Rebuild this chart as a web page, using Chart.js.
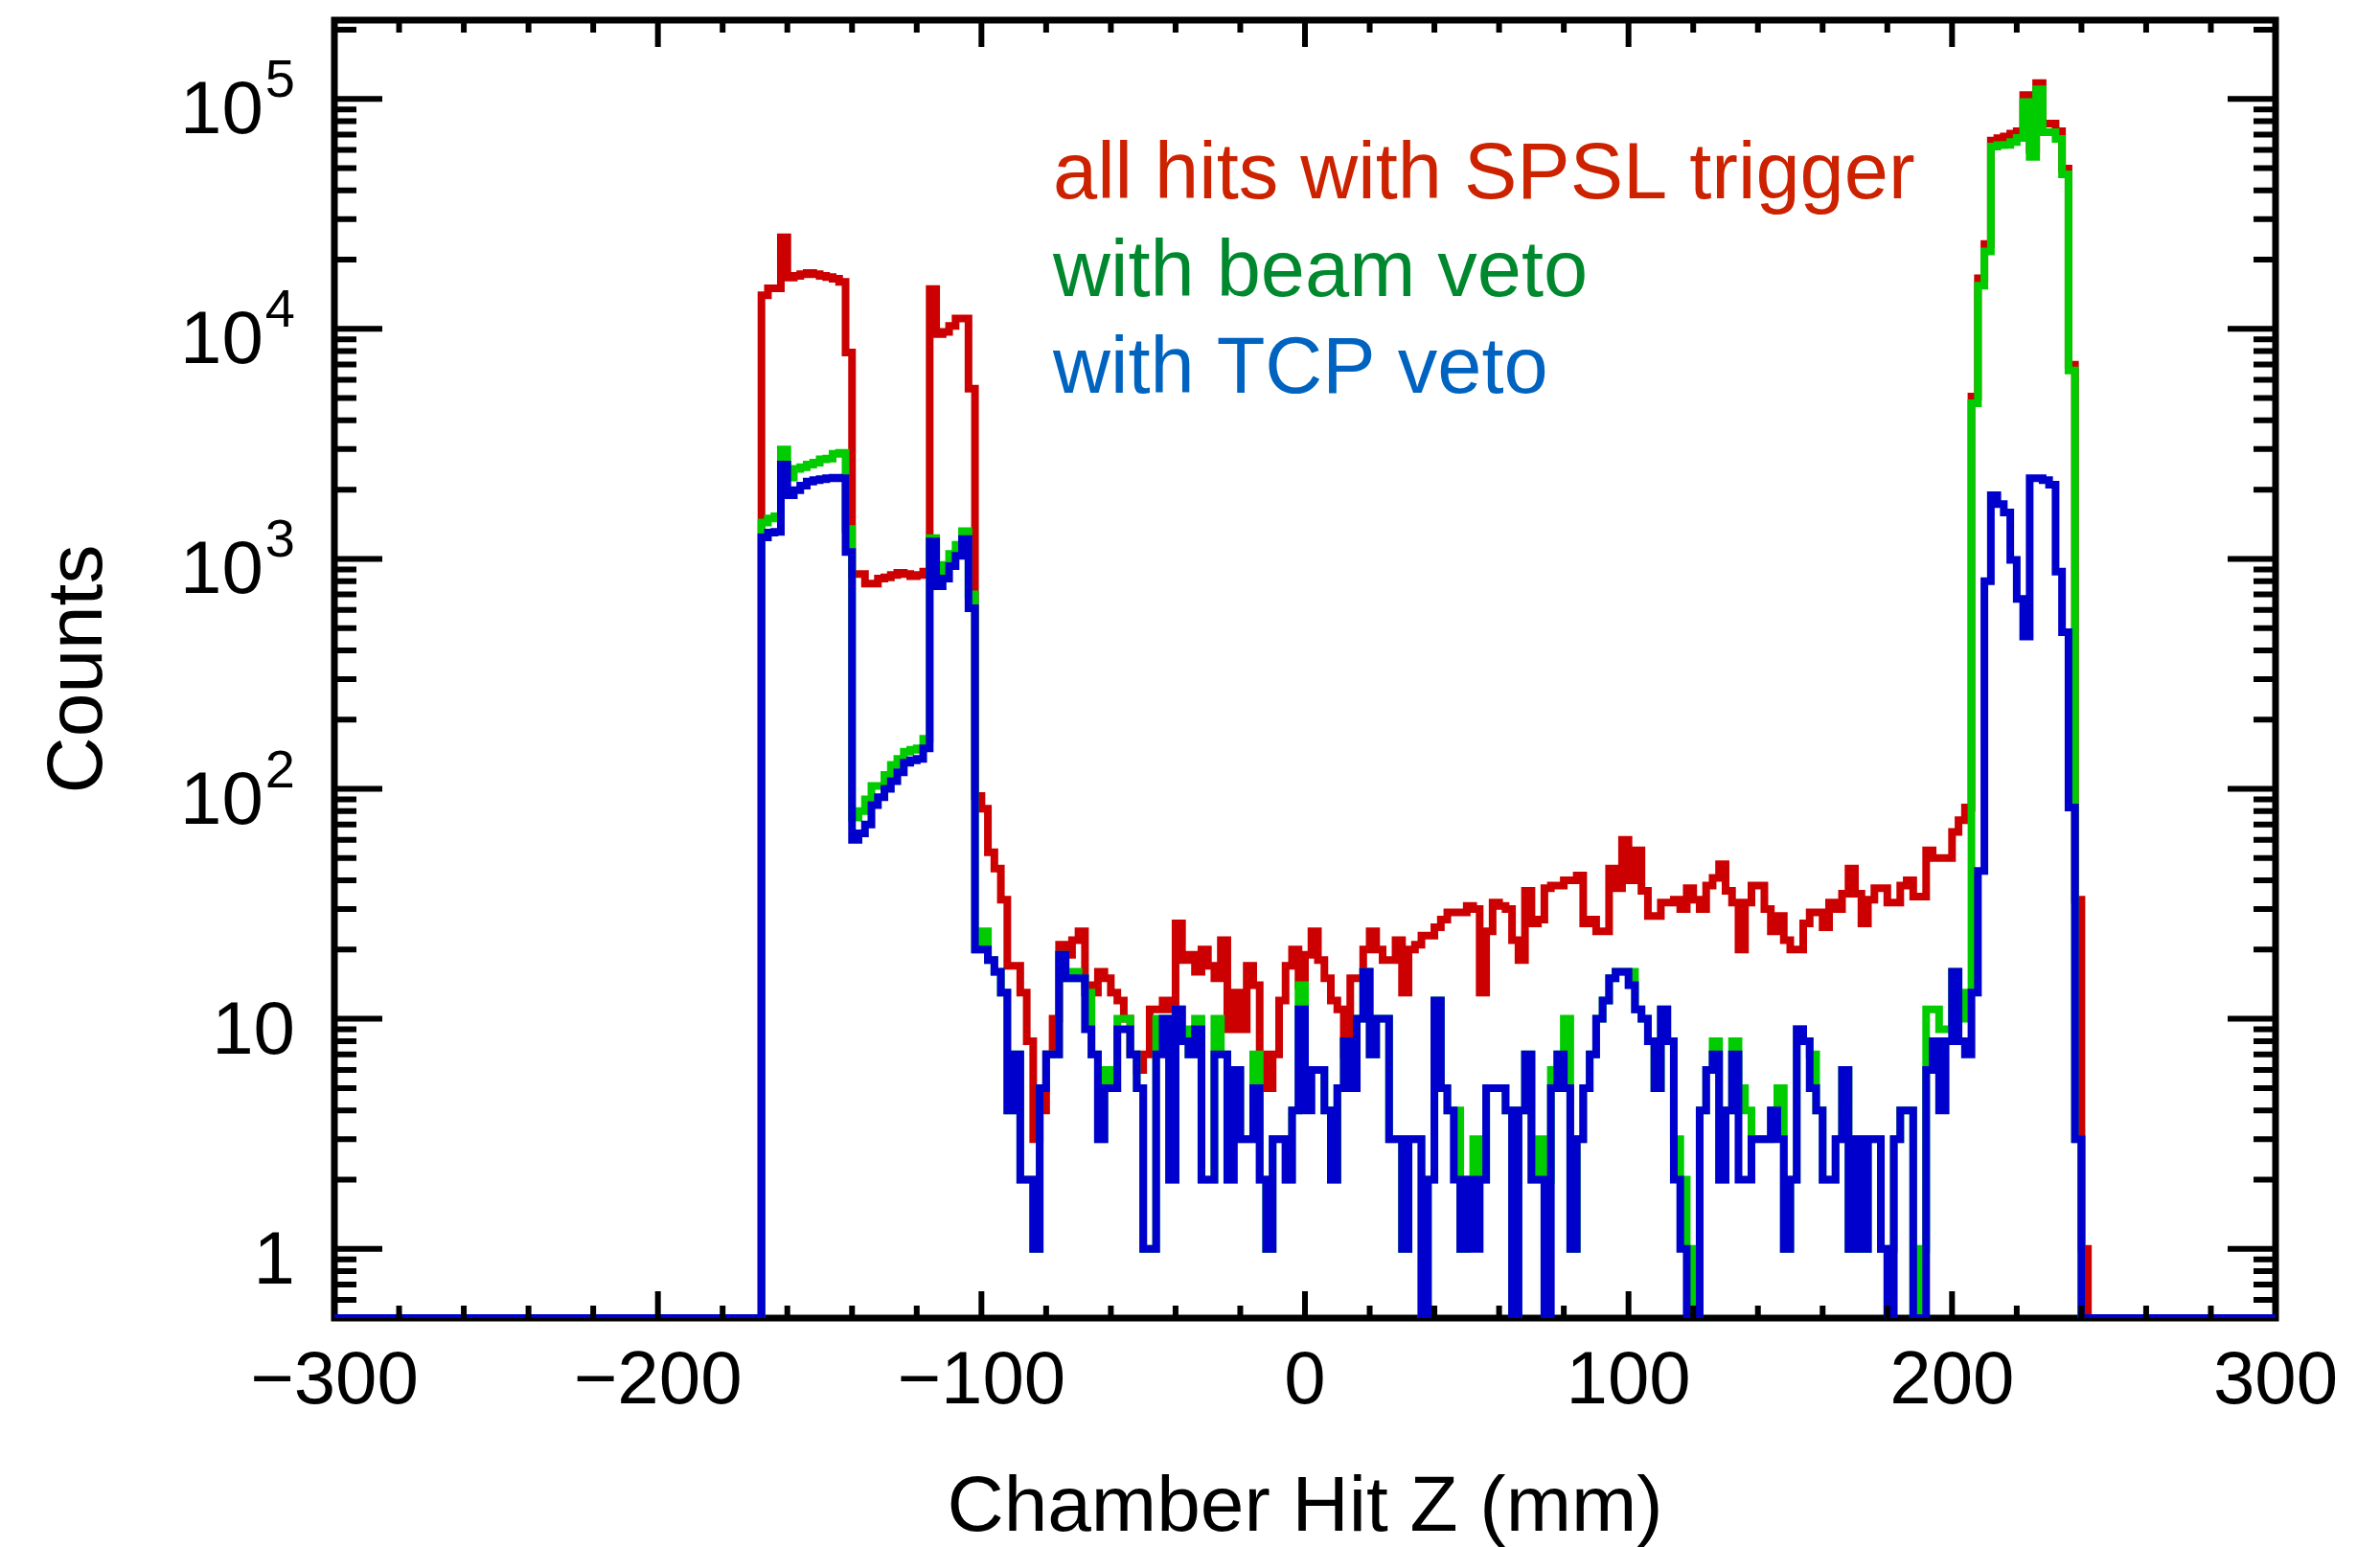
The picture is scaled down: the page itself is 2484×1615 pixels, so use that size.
<!DOCTYPE html>
<html>
<head>
<meta charset="utf-8">
<title>Chamber Hit Z</title>
<style>
  html, body { margin: 0; padding: 0; background: #fff; }
  #wrap { width: 2484px; height: 1615px; }
</style>
<script src="https://cdn.jsdelivr.net/npm/chart.js@4.4.1/dist/chart.umd.min.js"></script>
</head>
<body>
<div id="wrap"><canvas id="hist" width="2484" height="1615"></canvas></div>
<script>
// histogram: 2 mm bins from -300 to 300, bins outside the arrays are empty
const xMin = -300;
const xMax = 300;
const binWidth = 2;
const firstBinEdge = -168;

// all hits with SPSL trigger (bins -168 ... 242)
const allHits = [
  14000, 15000, 15000, 25000, 16700, 17000, 17300, 17500, 17300, 17000,
  16800, 16500, 16000, 7900, 860, 860, 780, 780, 820, 830,
  850, 870, 860, 840, 850, 880, 14900, 9500, 9700, 10300,
  11100, 11100, 5500, 93, 82, 53, 45, 33, 17, 17,
  13, 8, 3, 4, 7, 10, 21, 19, 22, 24,
  14, 13, 16, 15, 13, 12, 10, 7, 6, 7,
  11, 11, 12, 11, 26, 18, 19, 16, 20, 17,
  15, 22, 9, 13, 9, 17, 14, 7, 5, 7,
  12, 17, 20, 14, 19, 24, 18, 15, 12, 11,
  7, 15, 15, 20, 24, 20, 18, 18, 22, 13,
  20, 21, 23, 23, 25, 27, 29, 29, 29, 31,
  30, 13, 24, 32, 31, 30, 22, 18, 36, 26,
  27, 37, 38, 38, 40, 40, 42, 26, 27, 24,
  24, 45, 37, 60, 40, 54, 36, 28, 28, 32,
  32, 33, 30, 37, 33, 30, 38, 41, 47, 36,
  32, 20, 32, 38, 38, 30, 24, 28, 22, 20,
  20, 26, 29, 29, 25, 32, 30, 35, 45, 35,
  26, 33, 37, 37, 32, 32, 38, 40, 34, 34,
  54, 50, 50, 50, 65, 73, 83, 5080, 16600, 23400,
  65900, 67400, 68600, 70600, 72400, 104000, 60000, 117000, 78000, 78000,
  72400, 49700, 6980, 33, 1, 0
];

// with beam veto
const beamVeto = [
  1440, 1500, 1530, 2990, 2260, 2460, 2500, 2570, 2620, 2710,
  2730, 2860, 2890, 1350, 75, 80, 90, 103, 103, 115,
  127, 135, 145, 148, 150, 165, 1230, 830, 940, 1050,
  1150, 1320, 700, 20, 24, 18, 16, 13, 4, 7,
  2, 2, 1, 5, 7, 7, 19, 15, 16, 15,
  13, 7, 3, 6, 5, 10, 10, 7, 5, 1,
  1, 10, 10, 2, 11, 9, 7, 10, 2, 2,
  10, 7, 2, 6, 3, 3, 7, 2, 1, 3,
  3, 2, 4, 14, 6, 6, 6, 4, 2, 5,
  8, 5, 10, 16, 7, 10, 10, 3, 3, 1,
  3, 3, 0, 2, 12, 5, 4, 4, 1, 2,
  3, 2, 5, 5, 5, 4, 0, 4, 7, 2,
  3, 2, 6, 7, 10, 1, 3, 5, 7, 10,
  12, 15, 16, 16, 16, 11, 10, 8, 5, 11,
  8, 3, 2, 1, 0, 4, 6, 8, 2, 4,
  8, 5, 4, 3, 3, 3, 4, 5, 1, 2,
  9, 8, 7, 4, 2, 2, 3, 6, 1, 3,
  1, 3, 3, 1, 1, 3, 4, 4, 0, 1,
  11, 11, 9, 9, 16, 10, 13, 4750, 15400, 21700,
  62100, 63000, 63100, 64900, 67700, 97000, 56000, 110000, 71600, 71600,
  67000, 47000, 6600, 3, 0, 0
];

// with TCP veto
const tcpVeto = [
  1240, 1300, 1310, 2570, 1890, 1990, 2080, 2170, 2200, 2220,
  2240, 2250, 2240, 1070, 60, 64, 70, 85, 92, 100,
  108, 118, 130, 133, 135, 150, 1190, 760, 820, 930,
  1030, 1220, 610, 20, 20, 18, 16, 13, 4, 7,
  2, 2, 1, 5, 7, 7, 19, 15, 15, 15,
  9, 7, 3, 5, 5, 9, 9, 7, 5, 1,
  1, 7, 10, 2, 11, 8, 7, 9, 2, 2,
  7, 7, 2, 6, 3, 3, 5, 2, 1, 3,
  3, 2, 4, 11, 4, 6, 6, 4, 2, 5,
  8, 5, 10, 16, 7, 10, 10, 3, 3, 1,
  3, 3, 0, 2, 12, 5, 4, 2, 1, 2,
  1, 2, 5, 5, 5, 4, 0, 4, 7, 2,
  2, 0, 5, 7, 5, 1, 3, 5, 7, 10,
  12, 15, 16, 16, 14, 11, 10, 8, 5, 11,
  8, 2, 1, 0, 0, 4, 6, 7, 2, 4,
  7, 2, 2, 3, 3, 3, 4, 3, 1, 2,
  9, 8, 5, 4, 2, 2, 3, 6, 1, 3,
  1, 3, 3, 1, 0, 3, 4, 4, 0, 0,
  6, 8, 4, 8, 16, 8, 7, 13, 44, 800,
  1890, 1730, 1590, 990, 670, 460, 2240, 2240, 2200, 2100,
  880, 480, 83, 3, 0, 0
];

const seriesLabels = ["all hits with SPSL trigger", "with beam veto", "with TCP veto"];
const lineColors = ["#cc0000", "#00cc00", "#0000cc"];
const textColors = ["#cc2200", "#00882e", "#0063c0"];

const xTickLabels = [-300, -200, -100, 0, 100, 200, 300];
const yDecades = [0, 1, 2, 3, 4, 5];
const yMin = 0.5;
const yMax = 2.2e5;

// empty bins sit on the bottom of the log axis
function toPoints(counts) {
  const pts = [{ x: xMin, y: yMin }];
  counts.forEach((c, i) => {
    pts.push({ x: firstBinEdge + i * binWidth, y: c > 0 ? c : yMin });
  });
  pts.push({ x: firstBinEdge + counts.length * binWidth, y: yMin });
  pts.push({ x: xMax, y: yMin });
  return pts;
}

function histDataset(label, counts, color, order) {
  return {
    label,
    data: toPoints(counts),
    borderColor: color,
    backgroundColor: color,
    borderWidth: 8,
    stepped: "before",
    pointRadius: 0,
    pointHoverRadius: 0,
    tension: 0,
    fill: false,
    borderJoinStyle: "miter",
    borderCapStyle: "butt",
    order,
  };
}

const FONT = '"Liberation Sans", Arial, Helvetica, sans-serif';

const rootFrame = {
  id: "rootFrame",
  beforeDatasetsDraw(chart) {
    const { ctx, chartArea: a } = chart;
    ctx.save();
    ctx.strokeStyle = "#000";
    ctx.lineWidth = 7;
    ctx.strokeRect(a.left, a.top, a.right - a.left, a.bottom - a.top);
    ctx.restore();
  },
  afterDatasetsDraw(chart) {
    const { ctx, chartArea: a } = chart;
    const xs = chart.scales.x;
    const ys = chart.scales.y;
    ctx.save();
    ctx.strokeStyle = "#000";
    ctx.lineWidth = 6;
    ctx.lineCap = "butt";
    ctx.beginPath();
    // x ticks, every 20 mm, inward on bottom and top
    for (let v = xMin + 20; v < xMax; v += 20) {
      const px = xs.getPixelForValue(v);
      const len = v % 100 === 0 ? 28 : 13;
      ctx.moveTo(px, a.bottom);
      ctx.lineTo(px, a.bottom - len);
      ctx.moveTo(px, a.top);
      ctx.lineTo(px, a.top + len);
    }
    // y ticks on the log axis
    for (let d = -1; d <= 5; d++) {
      for (let m = 1; m <= 9; m++) {
        const v = m * Math.pow(10, d);
        if (v <= yMin || v >= yMax) continue;
        const py = ys.getPixelForValue(v);
        const len = m === 1 ? 50 : 23;
        ctx.moveTo(a.left, py);
        ctx.lineTo(a.left + len, py);
        ctx.moveTo(a.right, py);
        ctx.lineTo(a.right - len, py);
      }
    }
    ctx.stroke();
    ctx.restore();
  },
  afterDraw(chart) {
    const { ctx, chartArea: a } = chart;
    const xs = chart.scales.x;
    const ys = chart.scales.y;
    ctx.save();
    ctx.fillStyle = "#000";
    ctx.textBaseline = "alphabetic";

    // x tick labels
    ctx.font = "78px " + FONT;
    ctx.textAlign = "center";
    xTickLabels.forEach((v) => {
      const txt = v < 0 ? "\u2212" + Math.abs(v) : String(v);
      ctx.fillText(txt, xs.getPixelForValue(v), a.bottom + 89);
    });

    // y tick labels
    const labelRight = a.left - 41;
    yDecades.forEach((d) => {
      const py = ys.getPixelForValue(Math.pow(10, d));
      const base = py + 36;
      if (d <= 1) {
        ctx.font = "78px " + FONT;
        ctx.textAlign = "right";
        ctx.fillText(String(Math.pow(10, d)), labelRight, base);
      } else {
        ctx.font = "56px " + FONT;
        ctx.textAlign = "right";
        const sup = String(d);
        const supW = ctx.measureText(sup).width;
        ctx.fillText(sup, labelRight, base - 38);
        ctx.font = "78px " + FONT;
        ctx.fillText("10", labelRight - supW - 2, base);
      }
    });

    // axis titles
    ctx.font = "82px " + FONT;
    ctx.textAlign = "center";
    ctx.fillText("Chamber Hit Z (mm)", (a.left + a.right) / 2, 1598);
    ctx.save();
    ctx.translate(106, (a.top + a.bottom) / 2);
    ctx.rotate(-Math.PI / 2);
    ctx.fillText("Counts", 0, 0);
    ctx.restore();

    // legend text
    ctx.font = "83px " + FONT;
    ctx.textAlign = "left";
    seriesLabels.forEach((lab, i) => {
      ctx.fillStyle = textColors[i];
      ctx.fillText(lab, a.left + 750, a.top + 186 + i * 101.5);
    });
    ctx.restore();
  },
};

new Chart(document.getElementById("hist").getContext("2d"), {
  type: "line",
  data: {
    datasets: [
      histDataset(seriesLabels[0], allHits, lineColors[0], 3),
      histDataset(seriesLabels[1], beamVeto, lineColors[1], 2),
      histDataset(seriesLabels[2], tcpVeto, lineColors[2], 1),
    ],
  },
  options: {
    responsive: false,
    animation: false,
    events: [],
    layout: { padding: { left: 349, right: 109, top: 21, bottom: 239 } },
    plugins: {
      legend: { display: false },
      tooltip: { enabled: false },
      title: { display: false },
    },
    scales: {
      x: { type: "linear", min: xMin, max: xMax, display: false },
      y: { type: "logarithmic", min: yMin, max: yMax, display: false },
    },
  },
  plugins: [rootFrame],
});
</script>
</body>
</html>
